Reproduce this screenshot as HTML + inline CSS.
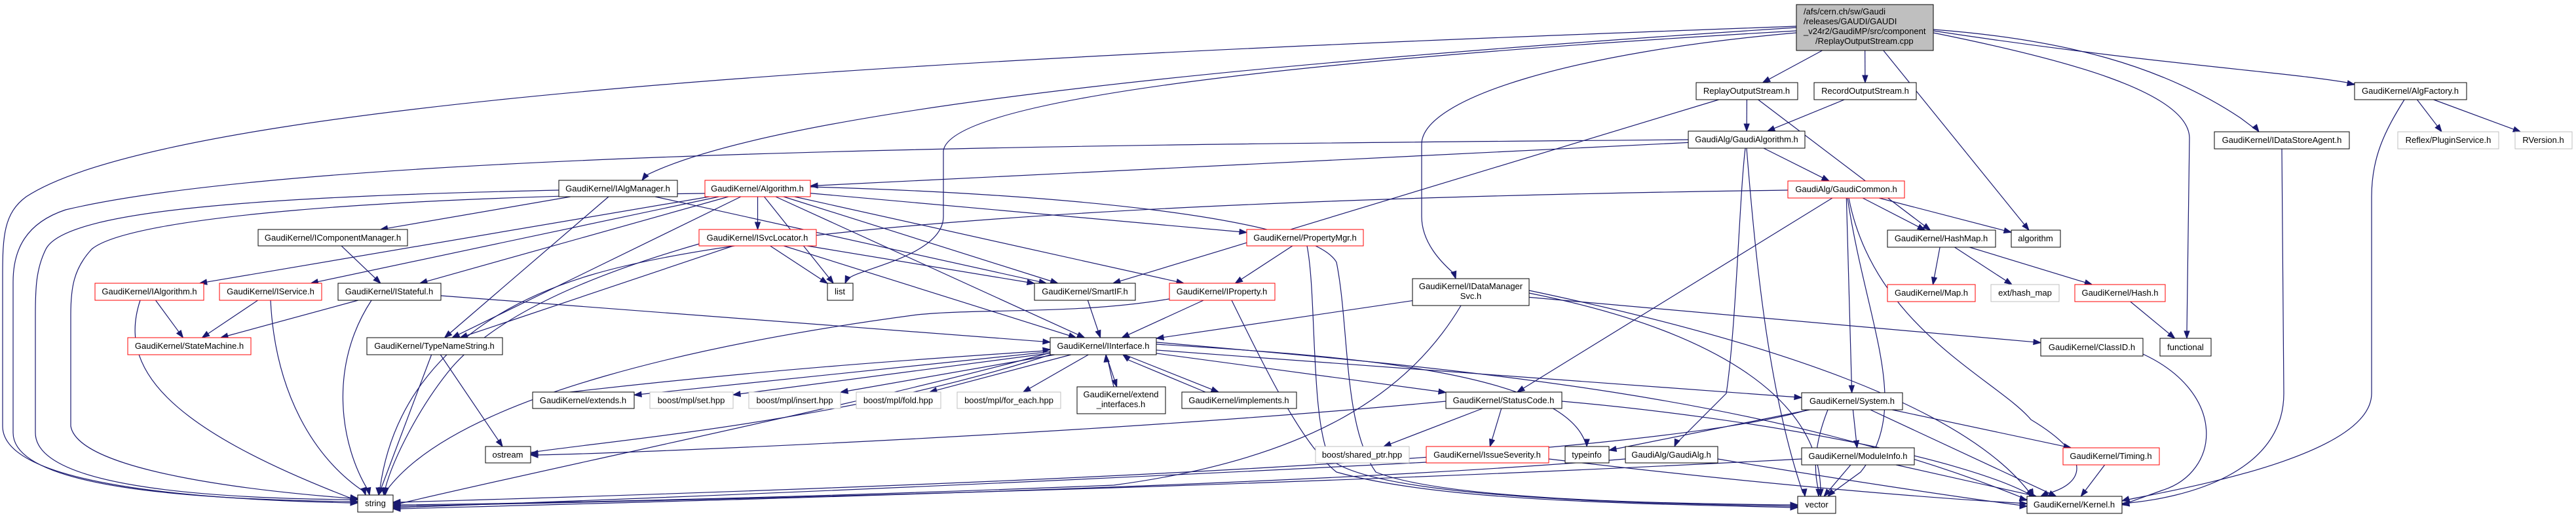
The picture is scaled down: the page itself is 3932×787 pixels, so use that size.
<!DOCTYPE html>
<html><head><meta charset="utf-8"><style>
html,body{margin:0;padding:0;background:#fff;}
svg{display:block;}
text{font-family:"Liberation Sans",sans-serif;font-size:13px;fill:#000;}
</style></head><body>
<svg id="s" width="3932" height="787" viewBox="0 0 3932 787" xmlns="http://www.w3.org/2000/svg">
<g id="edges" fill="none" stroke="#191970" stroke-width="1.2"></g>
<g id="heads" fill="#191970" stroke="#191970"></g>
<g id="nodes" stroke-width="1">
<rect id="M" x="2742" y="7" width="209" height="70" fill="#bfbfbf" stroke="#000"/>
<text x="2753" y="22">/afs/cern.ch/sw/Gaudi</text>
<text x="2753" y="37">/releases/GAUDI/GAUDI</text>
<text x="2753" y="52">_v24r2/GaudiMP/src/component</text>
<text x="2771" y="67">/ReplayOutputStream.cpp</text>

<rect id="ROS" x="2589" y="126" width="155" height="26" fill="#fff" stroke="#000"/><text x="2666" y="143" text-anchor="middle">ReplayOutputStream.h</text>
<rect id="RecOS" x="2769" y="126" width="156" height="26" fill="#fff" stroke="#000"/><text x="2847" y="143" text-anchor="middle">RecordOutputStream.h</text>
<rect id="AlgF" x="3594" y="126" width="171" height="26" fill="#fff" stroke="#000"/><text x="3679" y="143" text-anchor="middle">GaudiKernel/AlgFactory.h</text>
<rect id="GA" x="2577" y="200" width="178" height="26" fill="#fff" stroke="#000"/><text x="2666" y="217" text-anchor="middle">GaudiAlg/GaudiAlgorithm.h</text>
<rect id="IDSA" x="3380" y="201" width="206" height="26" fill="#fff" stroke="#000"/><text x="3483" y="218" text-anchor="middle">GaudiKernel/IDataStoreAgent.h</text>
<rect id="Reflex" x="3660" y="201" width="154" height="26" fill="#fff" stroke="#bfbfbf"/><text x="3737" y="218" text-anchor="middle">Reflex/PluginService.h</text>
<rect id="RV" x="3839" y="201" width="87" height="26" fill="#fff" stroke="#bfbfbf"/><text x="3882" y="218" text-anchor="middle">RVersion.h</text>
<rect id="IAM" x="853" y="275" width="181" height="25" fill="#fff" stroke="#000"/><text x="943" y="292" text-anchor="middle">GaudiKernel/IAlgManager.h</text>
<rect id="Alg" x="1076" y="275" width="161" height="25" fill="#fff" stroke="#f00"/><text x="1156" y="292" text-anchor="middle">GaudiKernel/Algorithm.h</text>
<rect id="GC" x="2729" y="276" width="178" height="26" fill="#fff" stroke="#f00"/><text x="2818" y="293" text-anchor="middle">GaudiAlg/GaudiCommon.h</text>
<rect id="ICM" x="394" y="350" width="228" height="25" fill="#fff" stroke="#000"/><text x="508" y="367" text-anchor="middle">GaudiKernel/IComponentManager.h</text>
<rect id="ISL" x="1067" y="350" width="179" height="25" fill="#fff" stroke="#f00"/><text x="1156" y="367" text-anchor="middle">GaudiKernel/ISvcLocator.h</text>
<rect id="PM" x="1903" y="350" width="178" height="25" fill="#fff" stroke="#f00"/><text x="1992" y="367" text-anchor="middle">GaudiKernel/PropertyMgr.h</text>
<rect id="HM" x="2881" y="351" width="165" height="26" fill="#fff" stroke="#000"/><text x="2963" y="368" text-anchor="middle">GaudiKernel/HashMap.h</text>
<rect id="algo" x="3070" y="351" width="75" height="26" fill="#fff" stroke="#000"/><text x="3107" y="368" text-anchor="middle">algorithm</text>
<rect id="IDMS" x="2156" y="425" width="178" height="41" fill="#fff" stroke="#000"/><text x="2245" y="441" text-anchor="middle">GaudiKernel/IDataManager</text><text x="2245" y="456" text-anchor="middle">Svc.h</text>
<rect id="IA" x="145" y="432" width="166" height="26" fill="#fff" stroke="#f00"/><text x="228" y="449" text-anchor="middle">GaudiKernel/IAlgorithm.h</text>
<rect id="IS" x="335" y="432" width="156" height="26" fill="#fff" stroke="#f00"/><text x="413" y="449" text-anchor="middle">GaudiKernel/IService.h</text>
<rect id="ISt" x="516" y="432" width="157" height="26" fill="#fff" stroke="#000"/><text x="594" y="449" text-anchor="middle">GaudiKernel/IStateful.h</text>
<rect id="list" x="1263" y="432" width="39" height="26" fill="#fff" stroke="#000"/><text x="1282" y="449" text-anchor="middle">list</text>
<rect id="SIF" x="1579" y="432" width="154" height="26" fill="#fff" stroke="#000"/><text x="1656" y="449" text-anchor="middle">GaudiKernel/SmartIF.h</text>
<rect id="IP" x="1785" y="432" width="161" height="26" fill="#fff" stroke="#f00"/><text x="1865" y="449" text-anchor="middle">GaudiKernel/IProperty.h</text>
<rect id="Map" x="2881" y="434" width="134" height="26" fill="#fff" stroke="#f00"/><text x="2948" y="451" text-anchor="middle">GaudiKernel/Map.h</text>
<rect id="ehm" x="3039" y="434" width="104" height="26" fill="#fff" stroke="#bfbfbf"/><text x="3091" y="451" text-anchor="middle">ext/hash_map</text>
<rect id="Hash" x="3167" y="434" width="138" height="26" fill="#fff" stroke="#f00"/><text x="3236" y="451" text-anchor="middle">GaudiKernel/Hash.h</text>
<rect id="SM" x="195" y="515" width="188" height="26" fill="#fff" stroke="#f00"/><text x="289" y="532" text-anchor="middle">GaudiKernel/StateMachine.h</text>
<rect id="TNS" x="560" y="515" width="207" height="26" fill="#fff" stroke="#000"/><text x="663" y="532" text-anchor="middle">GaudiKernel/TypeNameString.h</text>
<rect id="II" x="1603" y="515" width="162" height="26" fill="#fff" stroke="#000"/><text x="1684" y="532" text-anchor="middle">GaudiKernel/IInterface.h</text>
<rect id="CID" x="3115" y="516" width="156" height="27" fill="#fff" stroke="#000"/><text x="3193" y="534" text-anchor="middle">GaudiKernel/ClassID.h</text>
<rect id="func" x="3297" y="516" width="78" height="27" fill="#fff" stroke="#000"/><text x="3336" y="534" text-anchor="middle">functional</text>
<rect id="ext" x="813" y="598" width="155" height="25" fill="#fff" stroke="#000"/><text x="890" y="615" text-anchor="middle">GaudiKernel/extends.h</text>
<rect id="set" x="992" y="598" width="127" height="25" fill="#fff" stroke="#bfbfbf"/><text x="1055" y="615" text-anchor="middle">boost/mpl/set.hpp</text>
<rect id="ins" x="1143" y="598" width="140" height="25" fill="#fff" stroke="#bfbfbf"/><text x="1213" y="615" text-anchor="middle">boost/mpl/insert.hpp</text>
<rect id="fold" x="1307" y="598" width="129" height="25" fill="#fff" stroke="#bfbfbf"/><text x="1371" y="615" text-anchor="middle">boost/mpl/fold.hpp</text>
<rect id="fe" x="1461" y="598" width="158" height="25" fill="#fff" stroke="#bfbfbf"/><text x="1540" y="615" text-anchor="middle">boost/mpl/for_each.hpp</text>
<rect id="ei" x="1644" y="590" width="135" height="41" fill="#fff" stroke="#000"/><text x="1711" y="606" text-anchor="middle">GaudiKernel/extend</text><text x="1711" y="621" text-anchor="middle">_interfaces.h</text>
<rect id="impl" x="1804" y="598" width="175" height="25" fill="#fff" stroke="#000"/><text x="1891" y="615" text-anchor="middle">GaudiKernel/implements.h</text>
<rect id="SC" x="2207" y="598" width="177" height="25" fill="#fff" stroke="#000"/><text x="2295" y="615" text-anchor="middle">GaudiKernel/StatusCode.h</text>
<rect id="Sys" x="2750" y="599" width="154" height="26" fill="#fff" stroke="#000"/><text x="2827" y="616" text-anchor="middle">GaudiKernel/System.h</text>
<rect id="ostream" x="741" y="681" width="69" height="25" fill="#fff" stroke="#000"/><text x="775" y="698" text-anchor="middle">ostream</text>
<rect id="bsp" x="2008" y="681" width="143" height="25" fill="#fff" stroke="#bfbfbf"/><text x="2079" y="698" text-anchor="middle">boost/shared_ptr.hpp</text>
<rect id="IsS" x="2177" y="681" width="187" height="25" fill="#fff" stroke="#f00"/><text x="2270" y="698" text-anchor="middle">GaudiKernel/IssueSeverity.h</text>
<rect id="ti" x="2389" y="681" width="67" height="25" fill="#fff" stroke="#000"/><text x="2422" y="698" text-anchor="middle">typeinfo</text>
<rect id="GAh" x="2481" y="681" width="141" height="25" fill="#fff" stroke="#000"/><text x="2551" y="698" text-anchor="middle">GaudiAlg/GaudiAlg.h</text>
<rect id="MI" x="2750" y="683" width="172" height="26" fill="#fff" stroke="#000"/><text x="2836" y="700" text-anchor="middle">GaudiKernel/ModuleInfo.h</text>
<rect id="Tim" x="3149" y="683" width="147" height="26" fill="#fff" stroke="#f00"/><text x="3222" y="700" text-anchor="middle">GaudiKernel/Timing.h</text>
<rect id="string" x="546" y="755" width="54" height="26" fill="#fff" stroke="#000"/><text x="573" y="772" text-anchor="middle">string</text>
<rect id="vector" x="2744" y="757" width="58" height="26" fill="#fff" stroke="#000"/><text x="2773" y="774" text-anchor="middle">vector</text>
<rect id="Kernel" x="3094" y="757" width="145" height="26" fill="#fff" stroke="#000"/><text x="3166" y="774" text-anchor="middle">GaudiKernel/Kernel.h</text>
</g>
</svg>
<script>
(function(){
var NS="http://www.w3.org/2000/svg";
var E=document.getElementById("edges"),H=document.getElementById("heads");
function box(id){var r=document.getElementById(id);var x=+r.getAttribute("x"),y=+r.getAttribute("y"),w=+r.getAttribute("width"),h=+r.getAttribute("height");return {x:x,y:y,w:w,h:h,cx:x+w/2,cy:y+h/2};}
function clip(b,px,py){var dx=px-b.cx,dy=py-b.cy;if(dx==0&&dy==0)return [b.cx,b.cy];var tx=dx?(b.w/2)/Math.abs(dx):1e9,ty=dy?(b.h/2)/Math.abs(dy):1e9;var t=Math.min(tx,ty);return [b.cx+dx*t,b.cy+dy*t];}
function head(x,y,ux,uy){var L=11,W=4;var bx=x-ux*L,by=y-uy*L;var p=document.createElementNS(NS,"polygon");p.setAttribute("points",x+","+y+" "+(bx-uy*W)+","+(by+ux*W)+" "+(bx+uy*W)+","+(by-ux*W));H.appendChild(p);}
function path(d){var p=document.createElementNS(NS,"path");p.setAttribute("d",d);E.appendChild(p);}
function e(a,b){var A=box(a),B=box(b);
var s=clip(A,B.cx,B.cy),t=clip(B,A.cx,A.cy);
var dx=t[0]-s[0],dy=t[1]-s[1],l=Math.sqrt(dx*dx+dy*dy)||1;var ux=dx/l,uy=dy/l;
path("M"+s[0]+","+s[1]+" L"+(t[0]-ux*10)+","+(t[1]-uy*10));head(t[0],t[1],ux,uy);}
function c(d,tx,ty,ux,uy){path(d);var l=Math.sqrt(ux*ux+uy*uy);head(tx,ty,ux/l,uy/l);}
e("M","ROS");e("M","RecOS");e("M","algo");
c("M2951,45 C3150,60 3300,100 3420,180 L3440,195",3448,201,0.6,0.8);
c("M2951,47 C3300,100 3500,110 3594,128",3594,129,1,0.2);
c("M2951,50 C3150,90 3340,140 3342,210 L3338,505",3338,516,0,1);
c("M2742,40 C1800,75 300,130 40,300 C6,325 4,360 4,420 L4,650 C4,740 300,762 536,767",546,767,1,0);
c("M2742,42 C2000,90 1200,160 985,268",980,275,-0.6,0.8);
c("M2742,47 C2000,90 1450,150 1440,230 L1440,330 C1440,390 1310,410 1295,425",1290,432,-0.4,1);
c("M2742,50 C2400,80 2170,150 2170,220 L2170,330 C2170,370 2200,400 2218,416",2222,425,0.3,1);
e("ROS","GA");e("ROS","HM");e("ROS","SIF");e("RecOS","GA");
c("M2577,213 C1800,220 500,225 100,320 C40,340 20,380 20,430 L20,660 C20,745 300,762 536,765",546,765,1,0);
e("GA","Alg");e("GA","GC");
c("M2664,226 C2655,300 2650,500 2635,600 L2560,675",2556,681,-0.4,1);
c("M2666,226 C2680,400 2700,600 2752,752",2755,757,0.1,1);
e("AlgF","Reflex");e("AlgF","RV");
c("M3670,152 C3640,200 3620,240 3620,300 L3620,600 C3620,700 3300,750 3239,764",3239,764,-1,0.3);
c("M3483,227 L3486,600 C3486,720 3340,760 3239,768",3239,768,-1,0);
c("M3271,540 C3400,600 3390,720 3300,748 L3239,770",3239,770,-1,0.2);
e("IAM","ICM");e("IAM","TNS");e("IAM","SIF");
c("M853,290 C400,300 100,320 70,380 C55,410 54,440 54,480 L54,660 C54,740 300,760 536,762",546,762,1,0);
e("Alg","IA");e("Alg","IS");e("Alg","ISt");e("Alg","ISL");e("Alg","list");e("Alg","SIF");e("Alg","IP");e("Alg","PM");e("Alg","II");e("Alg","TNS");
c("M1076,295 C600,300 200,330 140,380 C112,410 108,440 108,480 L108,650 C120,720 400,750 536,760",546,760,1,0.1);
c("M1237,285 C1600,295 2000,330 2040,400 C2060,500 2050,650 2100,720 C2200,760 2500,768 2734,770",2744,770,1,0);
e("GC","HM");e("GC","algo");e("GC","Sys");e("GC","SC");
c("M2729,290 C2000,300 1200,330 900,420 C700,480 600,600 580,745",578,755,0,1);
c("M2820,302 C2850,500 2920,620 2840,720 L2796,752",2790,757,-0.6,0.6);
c("M2822,302 C2860,500 3050,580 3100,640 C3200,700 3180,740 3120,754",3115,757,-0.8,0.4);
e("ICM","ISt");
e("ISL","list");e("ISL","SIF");e("ISL","II");e("ISL","TNS");
c("M1067,372 C900,420 760,480 690,560 C640,620 600,700 588,745",586,755,0,1);
e("PM","IP");
c("M1995,375 C2010,450 2000,640 2030,700 C2100,760 2500,768 2734,772",2744,772,1,0);
e("IA","SM");e("IS","SM");e("ISt","SM");e("ISt","II");
c("M214,458 C180,560 250,650 536,760",546,762,1,0.3);
c("M413,458 C420,600 480,700 556,750",558,755,0.3,1);
c("M567,458 C500,560 520,680 562,748",564,755,0.2,1);
e("SIF","II");e("IP","II");
c("M1790,455 C1650,480 1500,470 1400,480 C1100,520 700,600 590,748",588,755,-0.1,1);
c("M1880,458 C1940,580 1990,680 2040,720 C2200,765 2500,768 2734,774",2744,774,1,0);
e("IDMS","II");e("IDMS","CID");
c("M2230,466 C2150,600 2000,700 1700,740 C1200,760 800,768 610,770",600,770,-1,0);
c("M2334,447 C2600,500 2780,600 2779,752",2779,757,0,1);
c("M2334,443 C2700,520 3000,620 3100,754",3104,757,0.5,1);
e("HM","Map");e("HM","ehm");e("HM","Hash");e("Hash","func");
e("TNS","string");e("TNS","ostream");
e("II","ext");e("II","set");e("II","ins");e("II","fold");e("II","fe");e("II","ei");e("II","impl");e("II","SC");e("II","Sys");
c("M1603,541 C1300,640 950,670 810,690",810,692,-1,0.1);
c("M1603,538 C1300,620 900,700 610,768",600,768,-1,0.1);
c("M1765,525 C2000,540 2380,560 2420,675",2422,681,0,1);
c("M1765,522 C2200,560 2700,600 3094,762",3094,763,1,0.3);
c("M1700,590 L1690,545",1688,541,-0.1,-1);
c("M1840,598 L1720,548",1714,541,-0.8,-0.6);
c("M870,598 C1200,560 1450,545 1595,535",1603,533,1,-0.1);
e("SC","bsp");e("SC","IsS");
c("M2207,612 C1700,660 1000,690 820,694",810,694,-1,0);
c("M2384,612 C2700,640 3000,700 3100,755",3104,757,0.6,0.6);
e("Sys","ti");e("Sys","MI");e("Sys","Tim");e("Sys","Kernel");
c("M2760,625 C2500,700 1500,740 610,766",600,766,-1,0.05);
c("M2790,625 C2760,700 2775,740 2776,750",2776,757,0,1);
e("MI","vector");e("MI","Kernel");
c("M2750,700 C2000,740 1200,760 610,772",600,772,-1,0);
e("Tim","Kernel");
c("M2177,705 C1500,740 1000,760 610,774",600,774,-1,0);
c("M2364,700 C2700,740 2950,760 3094,768",3094,768,1,0);
c("M2481,700 C2000,740 1200,760 610,776",600,776,-1,0);
c("M2622,700 C2800,730 3000,760 3094,772",3094,772,1,0);
})();
</script>
</body></html>
